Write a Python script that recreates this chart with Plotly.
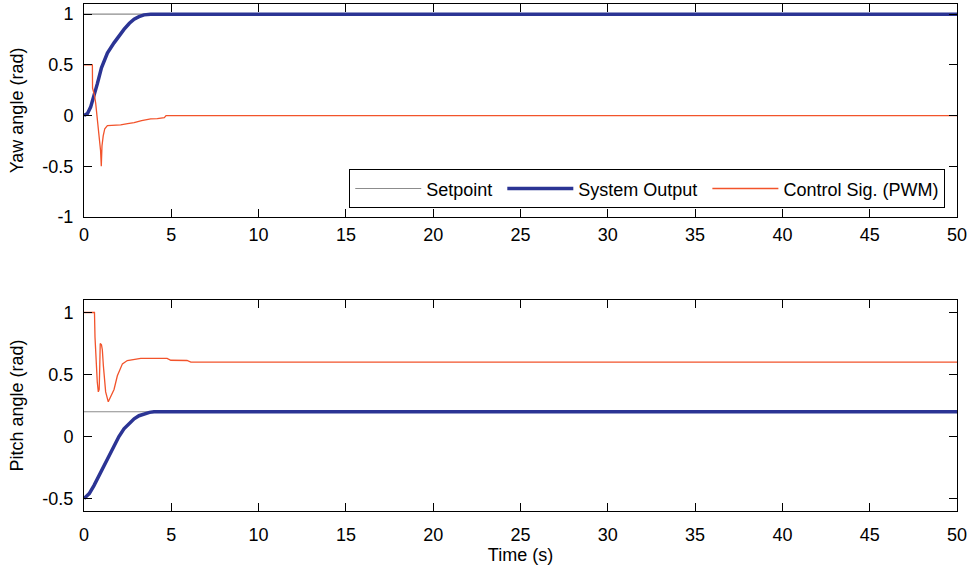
import plotly.graph_objects as go

# ---- Data ----
t_set = [0, 50]
yaw_setpoint = [1, 1]
pitch_setpoint = [0.2, 0.2]

yaw_out_t = [0, 0.2, 0.38, 0.55, 0.77, 1.0, 1.34, 1.72, 2.0, 2.29, 2.6, 2.87, 3.15, 3.44, 3.82, 4.2, 50]
yaw_out_y = [0, 0.02, 0.083, 0.18, 0.317, 0.47, 0.617, 0.717, 0.79, 0.85, 0.91, 0.95, 0.975, 0.993, 1.0, 1.0, 1.0]

yaw_ctrl_t = [0, 0.48, 0.49, 0.6, 0.67, 0.8, 0.86, 0.95, 0.99, 1.03, 1.1, 1.19, 1.34, 1.6, 2.1, 2.5, 2.87, 3.3, 3.82, 4.2, 4.6, 4.7, 50]
yaw_ctrl_y = [0.5, 0.5, 0.27, 0.2, 0.12, -0.1, -0.25, -0.35, -0.5, -0.3, -0.2, -0.13, -0.1, -0.1, -0.093, -0.08, -0.07, -0.05, -0.033, -0.03, -0.02, 0.0, 0.0]

pitch_out_t = [0, 0.3, 0.57, 0.85, 1.15, 1.45, 1.72, 2.0, 2.29, 2.6, 2.87, 3.15, 3.44, 3.75, 4.01, 50]
pitch_out_y = [-0.5, -0.46, -0.395, -0.32, -0.234, -0.15, -0.073, 0.0, 0.062, 0.11, 0.143, 0.168, 0.183, 0.195, 0.2, 0.2]

pitch_ctrl_t = [0, 0.6, 0.63, 0.66, 0.7, 0.76, 0.82, 0.87, 0.9, 0.93, 1.0, 1.05, 1.11, 1.18, 1.24, 1.39, 1.53, 1.72, 1.91, 2.2, 2.48, 3.25, 4.76, 4.97, 5.9, 6.12, 50]
pitch_ctrl_y = [1.0, 1.0, 0.8, 0.68, 0.6, 0.44, 0.36, 0.38, 0.55, 0.75, 0.74, 0.7, 0.57, 0.45, 0.36, 0.28, 0.32, 0.38, 0.49, 0.586, 0.613, 0.63, 0.63, 0.615, 0.613, 0.6, 0.6]

x_ticks = list(range(0, 55, 5))
legend_names = ["Setpoint", "System Output", "Control Sig. (PWM)"]

c_set = "#8c8c8c"
c_out = "#2b3494"
c_ctrl = "#f2532b"

tail = "\u00a0"

fig = go.Figure()
fig.add_trace(go.Scatter(x=t_set, y=yaw_setpoint, mode="lines", line=dict(color=c_set, width=1.2),
                         name=legend_names[0] + tail, xaxis="x", yaxis="y"))
fig.add_trace(go.Scatter(x=yaw_out_t, y=yaw_out_y, mode="lines", line=dict(color=c_out, width=3.5),
                         name=legend_names[1] + tail, xaxis="x", yaxis="y"))
fig.add_trace(go.Scatter(x=yaw_ctrl_t, y=yaw_ctrl_y, mode="lines", line=dict(color=c_ctrl, width=1.3),
                         name=legend_names[2], xaxis="x", yaxis="y"))
fig.add_trace(go.Scatter(x=t_set, y=pitch_setpoint, mode="lines", line=dict(color=c_set, width=1.2),
                         showlegend=False, xaxis="x2", yaxis="y2"))
fig.add_trace(go.Scatter(x=pitch_out_t, y=pitch_out_y, mode="lines", line=dict(color=c_out, width=3.5),
                         showlegend=False, xaxis="x2", yaxis="y2"))
fig.add_trace(go.Scatter(x=pitch_ctrl_t, y=pitch_ctrl_y, mode="lines", line=dict(color=c_ctrl, width=1.3),
                         showlegend=False, xaxis="x2", yaxis="y2"))

ax_common = dict(showline=True, linecolor="black", linewidth=1, mirror="ticks", ticks="inside",
                 ticklen=8, tickcolor="black", showgrid=False, zeroline=False, automargin=False,
                 tickfont=dict(size=18, color="black"))

fig.update_layout(
    width=978, height=574,
    margin=dict(l=84, r=21, t=4, b=63),
    paper_bgcolor="white", plot_bgcolor="white",
    font=dict(family="Liberation Sans, Arial, sans-serif", color="black"),
    xaxis=dict(domain=[0, 1], anchor="y", range=[0, 50], tickvals=x_ticks, ticklabelstandoff=1,
               **ax_common),
    yaxis=dict(domain=[0.58, 1], anchor="x", range=[-1, 1.1], tickvals=[-1, -0.5, 0, 0.5, 1],
               ticktext=["-1", "-0.5", "0", "0.5", "1"], ticklabelstandoff=6,
               title=dict(text="Yaw angle (rad)", font=dict(size=18), standoff=14), **ax_common),
    xaxis2=dict(domain=[0, 1], anchor="y2", range=[0, 50], tickvals=x_ticks, ticklabelstandoff=7,
                title=dict(text="Time (s)", font=dict(size=18), standoff=4), **ax_common),
    yaxis2=dict(domain=[0, 0.416], anchor="x2", range=[-0.6, 1.1], tickvals=[-0.5, 0, 0.5, 1],
                ticktext=["-0.5", "0", "0.5", "1"], ticklabelstandoff=6,
                title=dict(text="Pitch angle (rad)", font=dict(size=18), standoff=14), **ax_common),
    legend=dict(orientation="h", x=0.9862, y=0.5976, xanchor="right", yanchor="bottom",
                bgcolor="white", bordercolor="black", borderwidth=1.3, itemwidth=66,
                font=dict(size=18, color="black"), tracegroupgap=0),
    showlegend=True,
)

fig.write_html("out.html", config={"displayModeBar": False},
               post_script="document.body.style.margin='0';document.body.style.padding='0';")
